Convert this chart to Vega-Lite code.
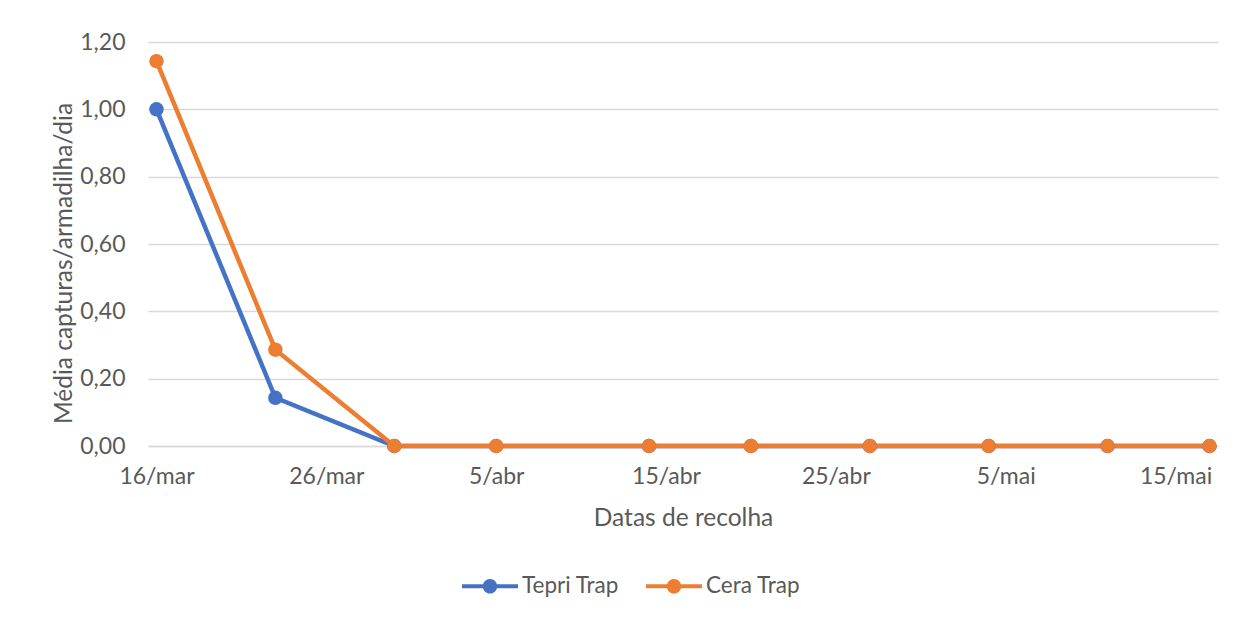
{
  "$schema": "https://vega.github.io/schema/vega-lite/v6.json",
  "width": 1070,
  "height": 404,
  "autosize": {"type": "none"},
  "padding": {"left": 148, "top": 42, "right": 17, "bottom": 173},
  "background": "white",
  "config": {
    "view": {"stroke": null},
    "font": "Lato",
    "axis": {
      "labelFont": "Lato",
      "labelFontSize": 23,
      "labelColor": "#595959",
      "titleFont": "Lato",
      "titleFontSize": 24.5,
      "titleFontWeight": "normal",
      "titleColor": "#595959",
      "ticks": false,
      "gridColor": "#D9D9D9",
      "gridWidth": 1.5
    }
  },
  "data": {
    "values": [
      {"data": "2020-03-16", "armadilha": "Tepri Trap", "valor": 1.0},
      {"data": "2020-03-23", "armadilha": "Tepri Trap", "valor": 0.143},
      {"data": "2020-03-30", "armadilha": "Tepri Trap", "valor": 0},
      {"data": "2020-04-05", "armadilha": "Tepri Trap", "valor": 0},
      {"data": "2020-04-14", "armadilha": "Tepri Trap", "valor": 0},
      {"data": "2020-04-20", "armadilha": "Tepri Trap", "valor": 0},
      {"data": "2020-04-27", "armadilha": "Tepri Trap", "valor": 0},
      {"data": "2020-05-04", "armadilha": "Tepri Trap", "valor": 0},
      {"data": "2020-05-11", "armadilha": "Tepri Trap", "valor": 0},
      {"data": "2020-05-17", "armadilha": "Tepri Trap", "valor": 0},
      {"data": "2020-03-16", "armadilha": "Cera Trap", "valor": 1.143},
      {"data": "2020-03-23", "armadilha": "Cera Trap", "valor": 0.286},
      {"data": "2020-03-30", "armadilha": "Cera Trap", "valor": 0},
      {"data": "2020-04-05", "armadilha": "Cera Trap", "valor": 0},
      {"data": "2020-04-14", "armadilha": "Cera Trap", "valor": 0},
      {"data": "2020-04-20", "armadilha": "Cera Trap", "valor": 0},
      {"data": "2020-04-27", "armadilha": "Cera Trap", "valor": 0},
      {"data": "2020-05-04", "armadilha": "Cera Trap", "valor": 0},
      {"data": "2020-05-11", "armadilha": "Cera Trap", "valor": 0},
      {"data": "2020-05-17", "armadilha": "Cera Trap", "valor": 0}
    ]
  },
  "mark": {"type": "line", "strokeWidth": 4.5, "point": {"filled": true, "size": 210, "opacity": 1}},
  "encoding": {
    "x": {
      "field": "data",
      "type": "temporal",
      "scale": {
        "type": "utc",
        "domain": [
          {"year": 2020, "month": 3, "date": 15, "hours": 12, "utc": true},
          {"year": 2020, "month": 5, "date": 17, "hours": 12, "utc": true}
        ]
      },
      "axis": {
        "title": "Datas de recolha",
        "values": [
          {"year": 2020, "month": 3, "date": 16, "utc": true},
          {"year": 2020, "month": 3, "date": 26, "utc": true},
          {"year": 2020, "month": 4, "date": 5, "utc": true},
          {"year": 2020, "month": 4, "date": 15, "utc": true},
          {"year": 2020, "month": 4, "date": 25, "utc": true},
          {"year": 2020, "month": 5, "date": 5, "utc": true},
          {"year": 2020, "month": 5, "date": 15, "utc": true}
        ],
        "labelExpr": "utcdate(datum.value) + '/' + ['jan','fev','mar','abr','mai','jun'][utcmonth(datum.value)]",
        "grid": false,
        "domain": true,
        "domainColor": "#D9D9D9",
        "domainWidth": 1.5,
        "labelPadding": 19,
        "titleBaseline": "alphabetic",
        "titleY": 79,
        "labelFlush": false
      }
    },
    "y": {
      "field": "valor",
      "type": "quantitative",
      "scale": {"domain": [0, 1.2], "nice": false},
      "axis": {
        "title": "Média capturas/armadilha/dia",
        "values": [0, 0.2, 0.4, 0.6, 0.8, 1.0, 1.2],
        "labelExpr": "replace(format(datum.value, '.2f'), '.', ',')",
        "domain": false,
        "labelPadding": 23,
        "titleX": -84,
        "titleY": 221,
        "titleAngle": -90,
        "titleAlign": "center",
        "titleBaseline": "middle"
      }
    },
    "color": {
      "field": "armadilha",
      "type": "nominal",
      "sort": ["Tepri Trap", "Cera Trap"],
      "scale": {"domain": ["Tepri Trap", "Cera Trap"], "range": ["#4472C4", "#ED7D31"]},
      "legend": {
        "title": null,
        "orient": "none",
        "legendX": 314,
        "legendY": 516,
        "direction": "horizontal",
        "symbolType": "M-1,-0.075L1,-0.075L1,0.075L-1,0.075Z M-0.26,0A0.26,0.26,0,1,1,0.26,0A0.26,0.26,0,1,1,-0.26,0Z",
        "symbolSize": 3136,
        "symbolStrokeWidth": 0,
        "labelFont": "Lato",
        "labelFontSize": 22.5,
        "labelColor": "#595959",
        "labelOffset": 4,
        "columnPadding": 27,
        "encode": {
          "symbols": {
            "update": {
              "fill": {"scale": "color", "field": "value"},
              "stroke": {"value": "transparent"},
              "opacity": {"value": 1}
            }
          }
        }
      }
    }
  }
}
